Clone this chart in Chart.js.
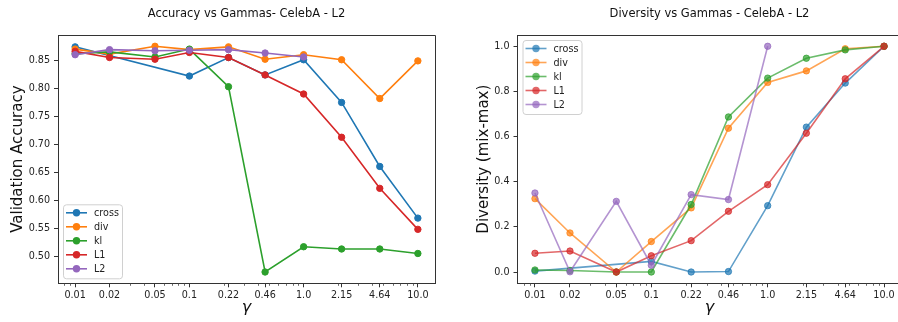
<!DOCTYPE html>
<html>
<head>
<meta charset="utf-8">
<script src="https://cdn.jsdelivr.net/npm/chart.js@4/dist/chart.umd.min.js"></script>
<style>
  html, body { margin: 0; padding: 0; background: #fff; overflow: hidden; width: 898px; height: 322px; }
  canvas { position: absolute; top: 0; }
  #c1 { left: 0; }
  #c2 { left: 450px; }
</style>
</head>
<body>
<canvas id="c1" width="450" height="322"></canvas>
<canvas id="c2" width="460" height="322"></canvas>
<script>
// ---- data ----
const gammas = [0.01, 0.02, 0.05, 0.1, 0.22, 0.46, 1.0, 2.15, 4.64, 10.0];
const xTickLabels = ['0.01', '0.02', '0.05', '0.1', '0.22', '0.46', '1.0', '2.15', '4.64', '10.0'];
const seriesNames = ['cross', 'div', 'kl', 'L1', 'L2'];

const accCross = [0.874, null, null, 0.822, 0.855, 0.824, 0.851, 0.775, 0.661, 0.569];
const accDiv   = [0.870, 0.861, 0.875, 0.869, 0.874, 0.852, 0.860, 0.851, 0.782, 0.849];
const accKl    = [0.862, 0.865, 0.856, 0.870, 0.803, 0.473, 0.518, 0.514, 0.514, 0.506];
const accL1    = [0.866, 0.855, 0.852, 0.864, 0.855, 0.824, 0.790, 0.713, 0.622, 0.549];
const accL2    = [0.860, 0.869, 0.867, 0.868, 0.869, 0.863, 0.856, null, null, null];

const divCross = [0.004, null, null, 0.047, 0.000, 0.002, 0.294, 0.642, 0.837, 1.0];
const divDiv   = [0.325, 0.173, 0.000, 0.135, 0.284, 0.637, 0.840, 0.891, 0.989, 1.0];
const divKl    = [0.009, 0.007, 0.000, 0.000, 0.299, 0.687, 0.859, 0.947, 0.984, 1.0];
const divL1    = [0.083, 0.093, 0.000, 0.072, 0.139, 0.269, 0.387, 0.615, 0.856, 1.0];
const divL2    = [0.350, 0.001, 0.313, 0.030, 0.343, 0.321, 1.000, null, null, null];

const accYTicks = [0.50, 0.55, 0.60, 0.65, 0.70, 0.75, 0.80, 0.85];
const divYTicks = [0.0, 0.2, 0.4, 0.6, 0.8, 1.0];

// ---- styling ----
const baseColors = [[31,119,180],[255,127,14],[44,160,44],[214,39,40],[148,103,189]];
const rgba = (c, a) => `rgba(${c[0]},${c[1]},${c[2]},${a})`;
Chart.defaults.font.family = '"DejaVu Sans", sans-serif';
Chart.defaults.color = '#222';

function toPoints(vals) {
  return gammas.map((g, i) => ({ x: g, y: vals[i] })).filter(p => p.y !== null);
}
function makeDatasets(list, alpha) {
  return list.map((vals, i) => ({
    label: seriesNames[i],
    data: toPoints(vals),
    borderColor: rgba(baseColors[i], alpha),
    backgroundColor: rgba(baseColors[i], alpha),
    pointBackgroundColor: rgba(baseColors[i], alpha),
    pointBorderColor: rgba(baseColors[i], alpha),
    borderWidth: 1.6,
    pointRadius: 3.2,
    pointBorderWidth: 1,
    tension: 0,
    order: 5 - i
  }));
}

const decoPlugin = {
  id: 'deco',
  afterDraw(chart, args, opts) {
    const { ctx, chartArea: a } = chart;
    ctx.save();
    // top and right spines
    ctx.strokeStyle = '#333';
    ctx.lineWidth = 1;
    ctx.beginPath();
    const yt = Math.round(a.top) + 0.5, xr = Math.round(a.right) + 0.5;
    ctx.moveTo(Math.round(a.left), yt); ctx.lineTo(xr, yt); ctx.lineTo(xr, Math.round(a.bottom));
    ctx.stroke();
    // minor log ticks
    const xs = chart.scales.x;
    ctx.lineWidth = 0.8;
    ctx.strokeStyle = '#444';
    for (let e = -3; e <= 1; e++) {
      for (let k = 2; k <= 9; k++) {
        const v = k * Math.pow(10, e);
        if (v < xs.min || v > xs.max) continue;
        if (gammas.some(g => Math.abs(g - v) / v < 1e-6)) continue;
        const px = Math.round(xs.getPixelForValue(v)) + 0.5;
        ctx.beginPath();
        ctx.moveTo(px, a.bottom);
        ctx.lineTo(px, a.bottom + 2.5);
        ctx.stroke();
      }
    }
    // title
    ctx.fillStyle = '#111';
    ctx.font = '11.5px "DejaVu Sans"';
    ctx.textAlign = 'center';
    ctx.textBaseline = 'alphabetic';
    ctx.fillText(opts.title, (a.left + a.right) / 2, 17);
    // legend
    const bw = 59, bh = 74;
    const bx = a.left + 5;
    const by = opts.legendPos === 'lowerleft' ? a.bottom - 5 - bh : a.top + 5;
    ctx.beginPath();
    if (ctx.roundRect) ctx.roundRect(bx + 0.5, by + 0.5, bw, bh, 3); else ctx.rect(bx + 0.5, by + 0.5, bw, bh);
    ctx.fillStyle = 'rgba(255,255,255,0.8)';
    ctx.fill();
    ctx.strokeStyle = '#d0d0d0';
    ctx.lineWidth = 1;
    ctx.stroke();
    chart.data.datasets.forEach((ds, i) => {
      const cy = by + 8.5 + i * 14;
      ctx.strokeStyle = ds.borderColor;
      ctx.lineWidth = 1.6;
      ctx.beginPath();
      ctx.moveTo(bx + 3, cy); ctx.lineTo(bx + 24, cy);
      ctx.stroke();
      ctx.beginPath();
      ctx.arc(bx + 13.5, cy, 3.7, 0, Math.PI * 2);
      ctx.fillStyle = ds.pointBackgroundColor;
      ctx.fill();
      ctx.fillStyle = '#222';
      ctx.font = '9.6px "DejaVu Sans"';
      ctx.textAlign = 'left';
      ctx.textBaseline = 'middle';
      ctx.fillText(ds.label, bx + 31, cy + 0.5);
    });
    ctx.restore();
  }
};

function makeChart(canvasId, datasets, cfg) {
  const decades = Math.log10(10) - Math.log10(0.01);
  const xmin = Math.pow(10, -2 - 0.05 * decades);
  const xmax = Math.pow(10, 1 + 0.05 * decades);
  return new Chart(document.getElementById(canvasId), {
    type: 'line',
    data: { datasets },
    plugins: [decoPlugin],
    options: {
      responsive: false,
      animation: false,
      devicePixelRatio: 1,
      events: [],
      layout: { padding: { top: 35, left: 0, right: cfg.padRight, bottom: 0 } },
      plugins: {
        legend: { display: false },
        tooltip: { enabled: false },
        title: { display: false },
        deco: { title: cfg.title, legendPos: cfg.legendPos }
      },
      scales: {
        x: {
          type: 'logarithmic',
          bounds: 'data',
          min: xmin,
          max: xmax,
          afterBuildTicks: (s) => { s.ticks = gammas.map(v => ({ value: v })); },
          afterFit: (s) => { s.height = 38.7; },
          grid: { display: true, drawOnChartArea: false, drawTicks: true, tickLength: 4, tickColor: '#333', tickWidth: 1 },
          border: { display: true, color: '#333', width: 1 },
          ticks: {
            autoSkip: false, maxRotation: 0, minRotation: 0, padding: 2,
            font: { size: 9.6 }, color: '#222',
            callback: (v, i) => xTickLabels[i]
          },
          title: { display: true, text: 'γ', font: { size: 16, style: 'italic' }, color: '#111', padding: { top: 0, bottom: 4.5 } }
        },
        y: {
          type: 'linear',
          bounds: 'data',
          min: cfg.ymin,
          max: cfg.ymax,
          afterBuildTicks: (s) => { s.ticks = cfg.yTicks.map(v => ({ value: v })); },
          afterFit: (s) => { s.width = cfg.yWidth; },
          grid: { display: true, drawOnChartArea: false, drawTicks: true, tickLength: 4, tickColor: '#333', tickWidth: 1 },
          border: { display: true, color: '#333', width: 1 },
          ticks: {
            padding: 4, font: { size: 9.6 }, color: '#222',
            callback: (v) => v.toFixed(cfg.yDecimals)
          },
          title: { display: true, text: cfg.yTitle, font: { size: 15 }, color: '#111', padding: { top: cfg.yTitlePad, bottom: 0 } }
        }
      }
    }
  });
}

// accuracy range with 5% margins
const accAll = [].concat(accCross, accDiv, accKl, accL1, accL2).filter(v => v !== null);
const accMin = Math.min(...accAll), accMax = Math.max(...accAll);
const accPad = 0.05 * (accMax - accMin);

makeChart('c1', makeDatasets([accCross, accDiv, accKl, accL1, accL2], 1), {
  title: 'Accuracy vs Gammas- CelebA - L2',
  legendPos: 'lowerleft',
  padRight: 15,
  yWidth: 58,
  ymin: accMin - accPad,
  ymax: accMax + accPad,
  yTicks: accYTicks,
  yDecimals: 2,
  yTitle: 'Validation Accuracy',
  yTitlePad: 9
});

makeChart('c2', makeDatasets([divCross, divDiv, divKl, divL1, divL2], 0.7), {
  title: 'Diversity vs Gammas - CelebA - L2',
  legendPos: 'upperleft',
  padRight: 8.5,
  yWidth: 67.5,
  ymin: -0.05,
  ymax: 1.05,
  yTicks: divYTicks,
  yDecimals: 1,
  yTitle: 'Diversity (mix-max)',
  yTitlePad: 25
});
</script>
</body>
</html>
